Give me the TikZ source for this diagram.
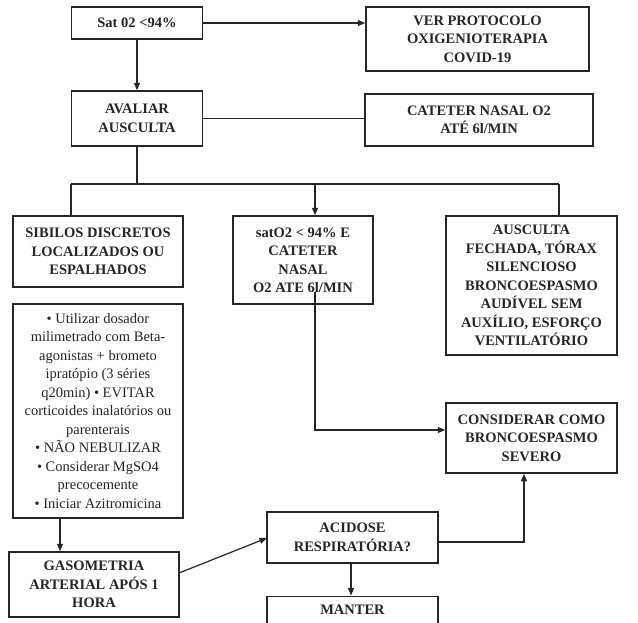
\documentclass[tikz,border=0pt]{standalone}
\usepackage{fontspec}
\setmainfont{Liberation Serif}
\usetikzlibrary{arrows.meta}
\begin{document}
\begin{tikzpicture}[x=1pt,y=-1pt,
  bx/.style={draw=black!85, line width=1.5pt, inner sep=0pt, align=center,
    text=black!85, font=\bfseries\fontsize{14.5}{18.5}\selectfont},
  bxr/.style={bx, font=\fontsize{14.5}{18.5}\selectfont},
  ln/.style={draw=black!85, line width=1.2pt},
  ar/.style={ln, -{Triangle[length=7.5pt,width=6pt]}}]
\clip (0,0) rectangle (638,622);
\fill[white] (0,0) rectangle (638,622);

\node[bx, minimum width=131pt, minimum height=32pt] (sat) at (137,23) {Sat 02 <94\%};
\node[bx, minimum width=223pt, minimum height=64pt] (ver) at (477.5,39) {VER PROTOCOLO\\OXIGENIOTERAPIA\\COVID-19};
\node[bx, minimum width=131pt, minimum height=55pt] (aval) at (137,118.5) {AVALIAR\\AUSCULTA};
\node[bx, minimum width=228pt, minimum height=52pt] (cat) at (479,120) {CATETER NASAL O2\\ATÉ 6l/MIN};
\node[bx, minimum width=170pt, minimum height=71pt] (sib) at (98,251.5) {SIBILOS DISCRETOS\\LOCALIZADOS OU\\ESPALHADOS};
\node[bx, minimum width=140pt, minimum height=88pt] (sat2) at (303,260) {satO2 < 94\% E\\CATETER\\NASAL\\O2 ATE 6l/MIN};
\node[bx, minimum width=171pt, minimum height=139pt] (ausc) at (531.5,285.5) {AUSCULTA\\FECHADA, TÓRAX\\SILENCIOSO\\BRONCOESPASMO\\AUDÍVEL SEM\\AUXÍLIO, ESFORÇO\\VENTILATÓRIO};
\node[bxr, minimum width=170pt, minimum height=214pt] (bul) at (98,411) {• Utilizar dosador\\milimetrado com Beta-\\agonistas + brometo\\ipratópio (3 séries\\q20min) • EVITAR\\corticoides inalatórios ou\\parenterais\\• NÃO NEBULIZAR\\• Considerar MgSO4\\precocemente\\• Iniciar Azitromicina};
\node[bx, minimum width=171pt, minimum height=70pt] (cons) at (531.5,438) {CONSIDERAR COMO\\BRONCOESPASMO\\SEVERO};
\node[bx, minimum width=170pt, minimum height=65pt] (gaso) at (94,584.5) {GASOMETRIA\\ARTERIAL APÓS 1\\HORA};
\node[bx, minimum width=171pt, minimum height=51pt] (acid) at (352.5,537.5) {ACIDOSE\\RESPIRATÓRIA?};
\node[bx, minimum width=171pt, minimum height=50pt] (mant) at (352.5,621.25) {MANTER\\\strut};

% top connectors
\draw[ar] (sat.east) -- (sat.east -| ver.west);
\draw[ar] (sat.south) -- (aval.north);
\draw[ln] (aval.east) -- (aval.east -| cat.west);

% branching bar
\coordinate (bj) at (137,184);
\coordinate (bl) at (71,184);
\coordinate (bm) at (315,184);
\coordinate (br) at (559,184);
\draw[ln] (aval.south) -- (bj);
\draw[ln] (bl) -- (br);
\draw[ln] (bl) -- (bl |- sib.north);
\draw[ar] (bm) -- (bm |- sat2.north);
\draw[ln] (br) -- (br |- ausc.north);

% sat2 to considerar
\coordinate (s2) at (315,292);
\coordinate (s2c) at (315,430);
\draw[ar] (s2) -- (s2c) -- (s2c -| cons.west);

% bullets to gasometria
\coordinate (bg) at (60,518);
\draw[ar] (bg) -- (bg |- gaso.north);

% gasometria to acidose
\coordinate (ga) at (179,573);
\coordinate (ac) at (267,538);
\draw[ar] (ga) -- (ac);

% acidose to considerar
\coordinate (ae) at (438,542);
\coordinate (ak) at (524,542);
\draw[ar] (ae) -- (ak) -- (ak |- cons.south);

% acidose to manter
\coordinate (am) at (351,563);
\draw[ar] (am) -- (am |- mant.north);
\end{tikzpicture}
\end{document}
